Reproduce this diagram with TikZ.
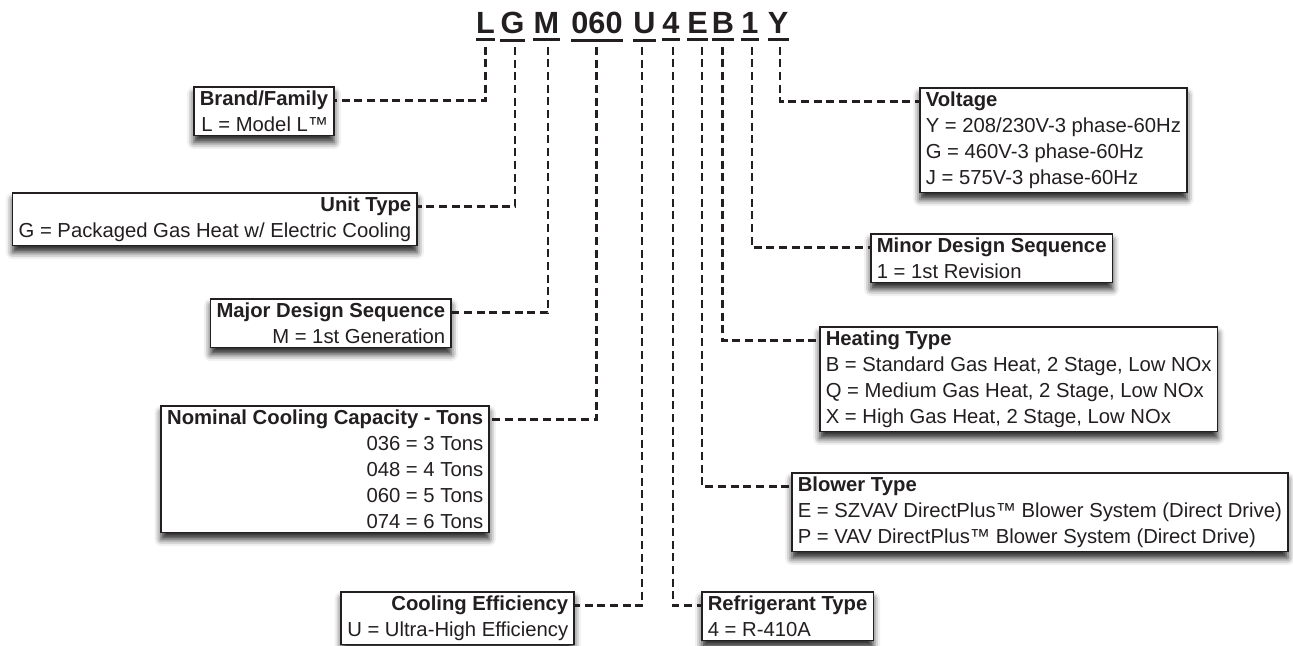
\documentclass[tikz,border=0pt]{standalone}
\usepackage{fontspec}
\setmainfont{Liberation Sans}
\usetikzlibrary{shadows.blur}
\definecolor{ink}{HTML}{231F20}

\begin{document}
\begin{tikzpicture}[x=0.75pt, y=-0.75pt,
    every node/.style={text=ink},
    code/.style={anchor=base, inner xsep=0pt, inner ysep=5pt,
      font=\fontsize{23}{27}\selectfont\bfseries},
    infobox/.style={draw=ink, line width=1.2pt, fill=white,
      inner xsep=4.5pt, inner ysep=3pt,
      font=\fontsize{15.2}{19.5}\selectfont,
      blur shadow={shadow xshift=0pt, shadow yshift=-5pt,
        shadow blur radius=5pt, shadow opacity=85}},
    link/.style={draw=ink, line width=1.9pt, dash pattern=on 6pt off 3.5pt}]
      \useasboundingbox (0, 0) rectangle (1293, 646);

      % model number
      \foreach \n/\x in {L/485.5, G/512.5, M/546.5, 060/597, U/644.5, 4/671, E/697.5, B/723, 1/750, Y/778} {
        \node[code] (c\n) at (\x, 33) {\n};
        \draw[ink, line width=2.2pt] (c\n.south west) -- (c\n.south east);
      }

      % boxes on the left
      \node[infobox, anchor=north east, align=right] (brand) at (335, 86)
        {\textbf{Brand/Family}\\L = Model L™};
      \node[infobox, anchor=north east, align=right] (unit) at (418, 192)
        {\textbf{Unit Type}\\G = Packaged Gas Heat w/ Electric Cooling};
      \node[infobox, anchor=north east, align=right] (major) at (452, 298)
        {\textbf{Major Design Sequence}\\M = 1st Generation};
      \node[infobox, anchor=north east, align=right] (nominal) at (490, 405)
        {\textbf{Nominal Cooling Capacity - Tons}\\036 = 3 Tons\\048 = 4 Tons\\060 = 5 Tons\\074 = 6 Tons};
      \node[infobox, anchor=north east, align=right] (effic) at (575, 591)
        {\textbf{Cooling Efficiency}\\U = Ultra-High Efficiency};

      % boxes on the right
      \node[infobox, anchor=north west, align=left] (refrig) at (701, 591)
        {\textbf{Refrigerant Type}\\4 = R-410A};
      \node[infobox, anchor=north west, align=left] (blower) at (791, 472)
        {\textbf{Blower Type}\\E = SZVAV DirectPlus™ Blower System (Direct Drive)\\P = VAV DirectPlus™ Blower System (Direct Drive)};
      \node[infobox, anchor=north west, align=left] (heating) at (819, 326)
        {\textbf{Heating Type}\\B = Standard Gas Heat, 2 Stage, Low NOx\\Q = Medium Gas Heat, 2 Stage, Low NOx\\X = High Gas Heat, 2 Stage, Low NOx};
      \node[infobox, anchor=north west, align=left] (minor) at (870, 233)
        {\textbf{Minor Design Sequence}\\1 = 1st Revision};
      \node[infobox, anchor=north west, align=left] (voltage) at (919, 87)
        {\textbf{Voltage}\\Y = 208/230V-3 phase-60Hz\\G = 460V-3 phase-60Hz\\J = 575V-3 phase-60Hz};

      \foreach \n/\b/\dx in {L/brand/0, G/unit/2, M/major/1, 060/nominal/-0.5, U/effic/-2} {
        \draw[link] ([xshift=\dx pt, yshift=-5pt]c\n.south) |- ([yshift=-11pt]\b.north east);
      }
      \foreach \n/\b/\dx in {4/refrig/1.5, E/blower/3.5, B/heating/-0.5, 1/minor/1.5, Y/voltage/1.5} {
        \draw[link] ([xshift=\dx pt, yshift=-5pt]c\n.south) |- ([yshift=-11pt]\b.north west);
      }
    \end{tikzpicture}
\end{document}
